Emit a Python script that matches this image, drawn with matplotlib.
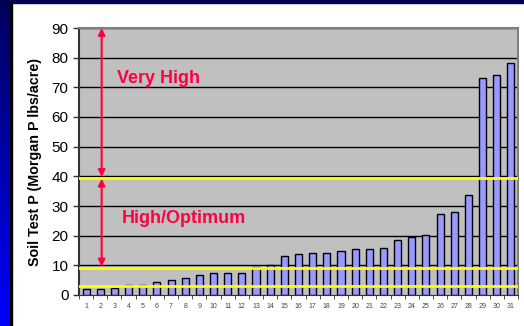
import numpy as np
import matplotlib.pyplot as plt

plt.rcParams['font.family'] = ['Liberation Sans', 'DejaVu Sans']

# soil test P per field, sorted low to high
fields = list(range(1, 32))
soil_p = [2.0, 2.0, 2.3, 3.5, 3.5, 4.5, 4.9, 5.8, 6.7, 7.5, 7.5, 7.5, 9.5, 10.1,
          13.2, 13.7, 14.0, 14.0, 14.8, 15.6, 15.6, 16.0, 18.5, 19.4, 20.2,
          27.2, 27.9, 33.7, 73.0, 74.3, 78.3]

# interpretation class boundaries
thresholds = [3.0, 9.2, 39.5]
class_labels = ['Very High', 'High/Optimum']
y_ticks = list(range(0, 100, 10))

fig = plt.figure(figsize=(5.24, 3.26), dpi=100)
fig.patch.set_facecolor('white')

# slide frame: navy top strip, gradient left strip
bg = fig.add_axes([0, 0, 1, 1], zorder=-10)
bg.set_xlim(0, 524)
bg.set_ylim(326, 0)
bg.axis('off')
grad = np.linspace(0, 1, 200).reshape(-1, 1)
cols = np.zeros((200, 1, 3))
cols[:, 0, 2] = 0.35 + 0.65 * grad[:, 0]
bg.imshow(cols, extent=[0, 10, 326, 0], aspect='auto', origin='upper')
bg.add_patch(plt.Rectangle((0, 0), 524, 3, color='#000050'))
bg.add_patch(plt.Rectangle((10, 3), 1.5, 323, color='black'))

ax = fig.add_axes([79 / 524, 1 - 295 / 326, 439 / 524, 267 / 326])
ax.set_facecolor('#C0C0C0')
ax.set_xlim(0.5, 31.5)
ax.set_ylim(0, 90)

for y in y_ticks[1:]:
    ax.axhline(y, color='black', lw=1, zorder=1)

ax.bar(fields, soil_p, width=0.5, color='#9999FF', edgecolor='black',
       linewidth=1, zorder=2)

for t in thresholds:
    ax.axhline(t, color='#FFFF00', lw=2, zorder=3)

red = '#FF0040'
arrow_x = 2.1
arrow_style = dict(arrowstyle='<|-|>', color=red, lw=1.5,
                   mutation_scale=10, shrinkA=0, shrinkB=0)
ax.annotate('', xy=(arrow_x, 90), xytext=(arrow_x, 39.8),
            arrowprops=arrow_style, zorder=4)
ax.annotate('', xy=(arrow_x, 39.2), xytext=(arrow_x, 9.6),
            arrowprops=arrow_style, zorder=4)
ax.text(3.2, 73, class_labels[0], color=red, fontsize=13, fontweight='bold',
        va='center', zorder=5)
ax.text(3.5, 25.8, class_labels[1], color=red, fontsize=13, fontweight='bold',
        va='center', zorder=5)

ax.set_yticks(y_ticks)
ax.tick_params(axis='y', labelsize=11, length=4, width=1, color='#333333')
ax.set_xticks(fields)
ax.set_xticklabels([str(f) for f in fields], fontsize=5, color='#444444')
ax.tick_params(axis='x', which='major', length=0, pad=6)
ax.set_xticks(np.arange(0.5, 32, 1), minor=True)
ax.tick_params(axis='x', which='minor', length=3, color='#333333')

for side in ['top', 'right']:
    ax.spines[side].set_color('#808080')
    ax.spines[side].set_linewidth(1.5)
ax.spines['left'].set_color('#333333')
ax.spines['left'].set_linewidth(1.5)
ax.spines['bottom'].set_color('#333333')

fig.text(35 / 524, 1 - 162 / 326, 'Soil Test P (Morgan P lbs/acre)',
         rotation=90, ha='center', va='center', fontsize=10.3, fontweight='bold')

fig.savefig('out.png', dpi=100)
